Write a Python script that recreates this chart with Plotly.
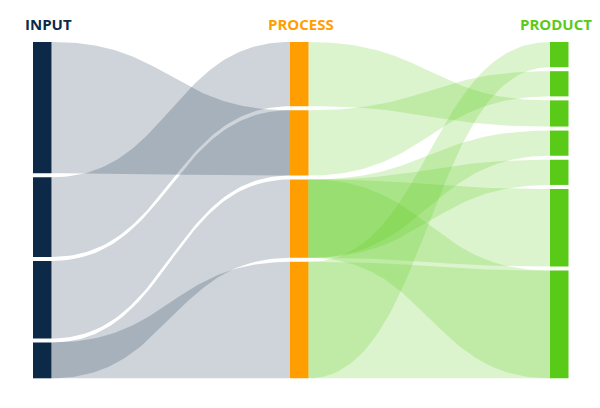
import numpy as np
import plotly.graph_objects as go

# ---------------- data ----------------
column_titles = ["INPUT", "PROCESS", "PRODUCT"]
input_values = [132, 80, 78, 36]
process_values = [64, 65, 78, 116]
product_values = [25, 25, 26, 25, 25, 77, 107]

# flows: every link joins the whole source node to the whole target node
input_to_process_source = [0, 1, 2, 3, 3]
input_to_process_target = [1, 0, 1, 2, 3]
process_to_product_source = [0, 1, 2, 2, 2, 2, 3, 3]
process_to_product_target = [2, 1, 3, 4, 5, 6, 0, 6]

# ---------------- style / layout ----------------
W, H = 600, 408
OFFSET = 8  # page body margin around the plot div
TOP, BOTTOM = 42, 378.3
GAP = 4.0
COL_LEFT = [33, 290, 550]
NODE_W = 18.5
NODE_COLORS = ["#0C2A47", "#FF9E00", "#5ACA19"]
TITLE_COLORS = ["#0C2A47", "#FF9E00", "#5ACA19"]
TITLE_X = [48.5, 300.5, 556]
TITLE_Y = 23.5
LINK_FILLS = ["rgba(12,42,71,0.2)", "rgba(90,202,25,0.21)"]

columns = [input_values, process_values, product_values]


def spans(values):
    n = len(values)
    scale = (BOTTOM - TOP - GAP * (n - 1)) / sum(values)
    out, y = [], TOP
    for v in values:
        h = v * scale
        out.append((y, y + h))
        y += h + GAP
    return out


col_spans = [spans(v) for v in columns]


def bezier(x0, y0, x1, y1, n=80):
    t = np.linspace(0, 1, n)
    xm = (x0 + x1) / 2
    x = (1 - t) ** 3 * x0 + 3 * (1 - t) ** 2 * t * xm + 3 * (1 - t) * t ** 2 * xm + t ** 3 * x1
    y = (1 - t) ** 3 * y0 + 3 * (1 - t) ** 2 * t * y0 + 3 * (1 - t) * t ** 2 * y1 + t ** 3 * y1
    return x, y


fig = go.Figure()

stages = [
    (0, input_to_process_source, input_to_process_target, LINK_FILLS[0]),
    (1, process_to_product_source, process_to_product_target, LINK_FILLS[1]),
]
for col, srcs, tgts, fill in stages:
    xs = COL_LEFT[col] + NODE_W
    xt = COL_LEFT[col + 1]
    for s, t in zip(srcs, tgts):
        s0, s1 = col_spans[col][s]
        t0, t1 = col_spans[col + 1][t]
        tx, ty = bezier(xs, s0, xt, t0)
        bx, by = bezier(xt, t1, xs, s1)
        fig.add_trace(go.Scatter(
            x=np.concatenate([tx, bx]), y=np.concatenate([ty, by]),
            mode="lines", fill="toself", fillcolor=fill,
            line=dict(width=0), hoverinfo="skip", showlegend=False,
        ))

for col, vals in enumerate(columns):
    sp = col_spans[col]
    fig.add_trace(go.Bar(
        x=[COL_LEFT[col] + NODE_W / 2] * len(vals),
        base=[a for a, b in sp],
        y=[b - a for a, b in sp],
        width=NODE_W,
        marker=dict(color=NODE_COLORS[col], line=dict(width=0)),
        hoverinfo="skip", showlegend=False,
    ))

for i, title in enumerate(column_titles):
    fig.add_annotation(
        x=TITLE_X[i], y=TITLE_Y, xref="x", yref="y", text=f"<b>{title}</b>",
        showarrow=False, xanchor="center", yanchor="middle",
        font=dict(family="Open Sans", size=15, color=TITLE_COLORS[i]),
    )

fig.update_layout(
    width=W, height=H, margin=dict(l=0, r=0, t=0, b=0, pad=0),
    paper_bgcolor="white", plot_bgcolor="white", barmode="overlay",
    xaxis=dict(range=[OFFSET, W + OFFSET], visible=False, fixedrange=True),
    yaxis=dict(range=[H + OFFSET, OFFSET], visible=False, fixedrange=True),
    showlegend=False,
)

fig.write_html("out.html")
